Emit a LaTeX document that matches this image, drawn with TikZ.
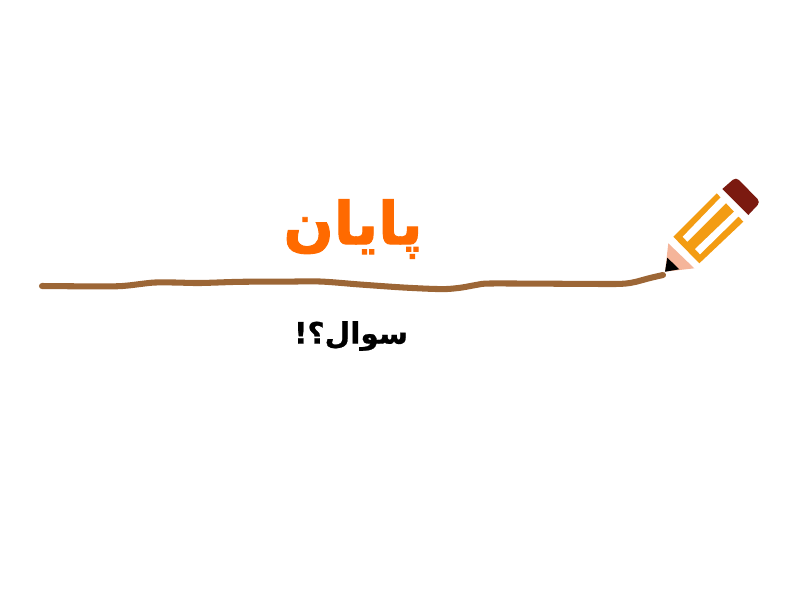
\documentclass[tikz,border=0pt]{standalone}
\usepackage{fontspec}
\usetikzlibrary{positioning}
\TeXXeTstate=1
\newfontfamily\arabicfont[Script=Arabic,BoldFeatures={FakeBold=1.6}]{DejaVu Sans}
\newfontfamily\arabicchica[Script=Arabic,BoldFeatures={FakeBold=0.8}]{DejaVu Sans}
\definecolor{naranja}{HTML}{FF6A00}
\definecolor{cafe}{HTML}{9C6636}
\definecolor{lapiz}{HTML}{F39C12}
\definecolor{goma}{HTML}{7B1A10}
\definecolor{madera}{HTML}{F5B59A}
\tikzset{
  titulo/.style={text=naranja,inner sep=0pt,font=\arabicfont\fontsize{42}{48}\selectfont\bfseries},
  pregunta/.style={text=black,inner sep=0pt,font=\arabicchica\fontsize{21}{26}\selectfont\bfseries},
  trazo/.style={draw=cafe,line width=4.3pt,line cap=round,line join=round}
}
\begin{document}
\begin{tikzpicture}[x=0.025cm,y=-0.025cm]
\useasboundingbox (0,0) rectangle (800,600);

\node[titulo] (fin) at (353,229) {\beginR پایان\endR};
\node[pregunta] (preg) at (351,336) {\beginR سوال؟!\endR};

% linea
\draw[trazo] plot[smooth,tension=0.5] coordinates {(42,286) (80,286.3) (115,286.3) (128,285.5) (142,283.8) (155,282.5)
  (175,282.5) (200,283) (240,281.8) (280,281.7) (320,281.5) (360,284.5) (400,287.3) (430,288.8) (447,289) (462,287.5)
  (477,284.8) (490,283.5) (550,283.7) (610,284) (625,283.6) (635,282) (650,278) (663,275)};

% lapiz
\fill[madera] (668.3,243.3) -- (694.3,268.3) -- (665,271.7) -- cycle;
\fill[black] (667.3,257.7) -- (679.3,269.3) -- (665,271.7) -- cycle;
\fill[lapiz] (673.3,236.7) -- (716.7,193.3) -- (743.3,221.7) -- (699.3,263.3) -- cycle;
\fill[white] (682.7,236.7) -- (721,197) -- (728,201) -- (687.3,241.7) -- cycle;
\fill[white] (695,249) -- (735,210.7) -- (739.3,215.7) -- (700,254.3) -- cycle;
\fill[goma] (722.3,189) [rounded corners=3pt] -- (736,177) -- (760.5,202) [sharp corners] -- (748.3,215) -- cycle;
\end{tikzpicture}
\end{document}
